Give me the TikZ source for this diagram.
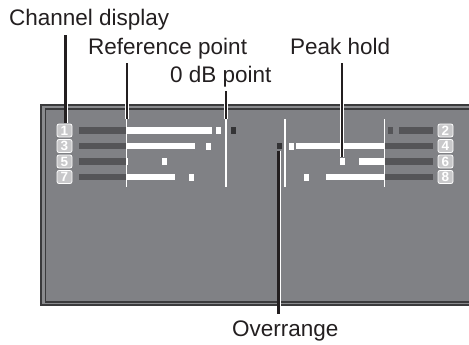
\documentclass[tikz,border=0pt]{standalone}
\usepackage{fontspec}
\setmainfont{Liberation Sans}
\definecolor{panel}{RGB}{128,129,133}
\definecolor{band}{RGB}{138,139,142}
\definecolor{rim}{RGB}{58,58,60}
\definecolor{unlit}{RGB}{85,85,88}
\definecolor{ovrcol}{RGB}{52,52,54}
\definecolor{boxcol}{RGB}{200,200,202}
\definecolor{ink}{RGB}{35,31,32}
\tikzset{
  callout/.style={inner sep=0pt, text height=16pt, text depth=0pt, anchor=base west,
    font=\fontsize{22.5}{26}\selectfont, text=ink},
  chanbox/.style={draw=white, line width=0.8pt, fill=boxcol, rounded corners=2pt,
    minimum width=15pt, minimum height=13pt, inner sep=0pt, text=white,
    font=\fontsize{13.5}{14}\selectfont\bfseries},
  pointer/.style={draw=white, line width=0.9pt, double=ink, double distance=2.2pt}
}
\begin{document}
\begin{tikzpicture}[x=1pt,y=-1pt]
\useasboundingbox (0,0) rectangle (469,345);
\draw[rim, line width=1.2pt, fill=band] (41,105) rectangle (480,305);
\draw[rim, line width=1.5pt, fill=panel] (45.5,109) rectangle (480,302);
\foreach \n/\y/\e/\p in {1/130.5/211.7/216, 3/146/195/206, 5/161.5/127/162, 7/177/175/189}
{
\fill[unlit] (79,{\y-3.25}) rectangle (126.5,{\y+3.25});
\fill[white] (126.5,{\y-3.25}) rectangle (\e,{\y+3.25});
\fill[white] (\p,{\y-3.5}) rectangle ({\p+5},{\y+3.5});
\node[chanbox] (ch\n) at (64.5,\y) {\n};
}
\foreach \n/\y/\s/\p in {4/146/296/289, 6/161.5/359/340, 8/177/326/304}
{
\fill[unlit] (384.3,{\y-3.25}) rectangle (432.5,{\y+3.25});
\fill[white] (\s,{\y-3.25}) rectangle (384.3,{\y+3.25});
\fill[white] (\p,{\y-3.5}) rectangle ({\p+5},{\y+3.5});
\node[chanbox] (ch\n) at (445.5,\y) {\n};
}
\fill[unlit] (399,127.25) rectangle (432.5,133.75);
\fill[unlit] (388,127) rectangle (393,134);
\node[chanbox] (ch2) at (445.5,130.5) {2};
\fill[ovrcol] (230.7,127) rectangle (235.7,134);
\fill[ovrcol] (276.7,142.7) rectangle (282.3,149.3);
\foreach \x in {126.7,226,285,384.3}
\draw[white, line width=1.5pt] (\x,119) -- (\x,187);
\coordinate (chantip) at (65.5,123);
\coordinate (reftip) at (126.7,119);
\coordinate (zerotip) at (226,119);
\coordinate (peaktip) at (342.3,157);
\coordinate (ovrtip) at (278.5,150.5);
\node[callout] (chan) at (9,26) {Channel display};
\node[callout] (ref) at (88,55) {Reference point};
\node[callout] (zero) at (170,83) {0 dB point};
\node[callout] (peak) at (290,55) {Peak hold};
\node[callout] (ovr) at (232,336.7) {Overrange};
\draw[pointer, shorten <=9pt] (chantip |- chan.south) -- (chantip);
\draw[pointer, shorten <=8pt] (reftip |- ref.south) -- (reftip);
\draw[pointer, shorten <=8pt] (zerotip |- zero.south) -- (zerotip);
\draw[pointer, shorten <=8pt] (peaktip |- peak.south) -- (peaktip);
\draw[pointer, shorten >=6.5pt] (ovrtip) -- (ovrtip |- ovr.north);
\end{tikzpicture}
\end{document}
